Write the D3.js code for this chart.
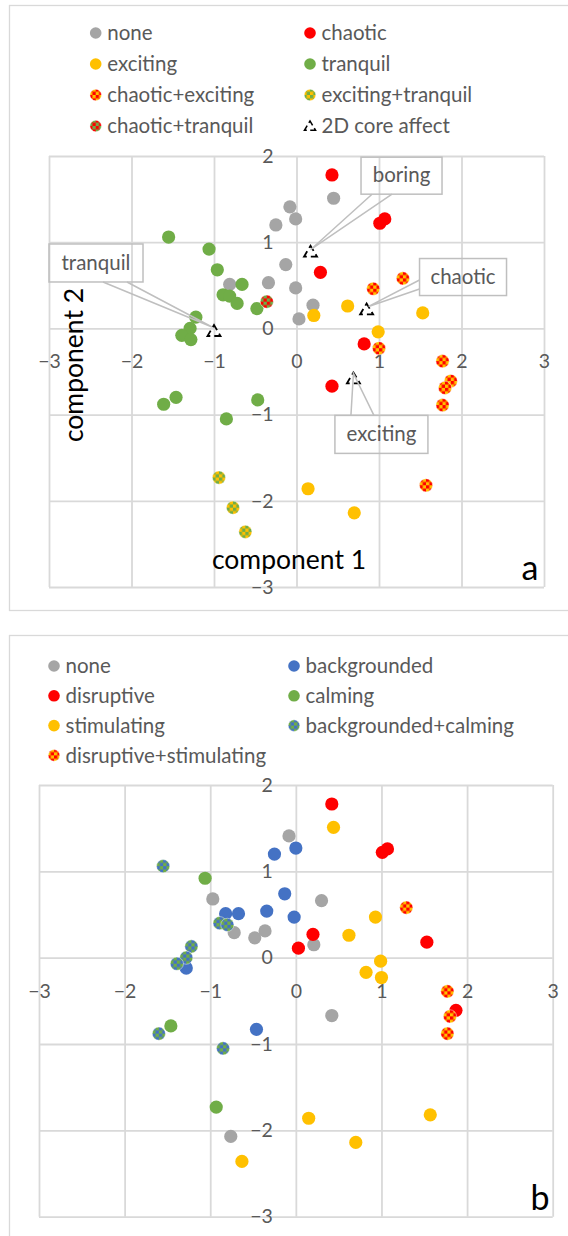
<!DOCTYPE html>
<html><head><meta charset="utf-8">
<script src="https://cdn.jsdelivr.net/npm/d3@7"></script>
<style>
html,body{margin:0;padding:0;background:#fff;}
svg{display:block;font-family:Lato,"Open Sans",sans-serif;}
</style></head><body>
<svg id="chart" width="568" height="1236"></svg>
<script>
// Axis ticks shared by both panels
const ticksX = [-3, -2, -1, 0, 1, 2, 3];
const ticksY = [-3, -2, -1, 0, 1, 2];

// Panel a: soundscape labels (component 1, component 2)
const noneA = [[-0.81,0.51],[-0.34,0.53],[-0.13,0.74],[-0.01,0.47],[0.03,0.11],[-0.25,1.20],[-0.08,1.41],[-0.01,1.27],[0.45,1.51],[0.20,0.27]];
const chaoticA = [[0.43,1.78],[1.01,1.22],[1.07,1.27],[0.29,0.65],[0.82,-0.18],[0.43,-0.67]];
const excitingA = [[0.21,0.15],[0.62,0.26],[1.53,0.18],[0.99,-0.04],[0.14,-1.86],[0.70,-2.14]];
const tranquilA = [[-1.55,1.06],[-1.06,0.92],[-0.96,0.68],[-0.66,0.51],[-0.89,0.39],[-0.81,0.375],[-0.72,0.29],[-0.48,0.23],[-1.22,0.13],[-1.29,0.0],[-1.39,-0.08],[-1.28,-0.13],[-1.46,-0.80],[-1.61,-0.88],[-0.47,-0.83],[-0.85,-1.05]];
const chaoticExcitingA = [[0.93,0.46],[1.29,0.58],[1.00,-0.23],[1.77,-0.38],[1.87,-0.61],[1.80,-0.69],[1.77,-0.89],[1.57,-1.82]];
const excitingTranquilA = [[-0.94,-1.73],[-0.77,-2.08],[-0.62,-2.36]];
const chaoticTranquilA = [[-0.36,0.31]];
const coreAffectA = [[-1.00,-0.03],[0.17,0.89],[0.85,0.22],[0.69,-0.58]];
const coreAffectNames = ["tranquil", "boring", "chaotic", "exciting"];

// Panel b: sound effect labels (same component space)
const noneB = [[-0.97,0.68],[-0.72,0.29],[-0.48,0.23],[-0.36,0.31],[-0.08,1.41],[0.30,0.66],[0.21,0.15],[0.42,-0.67],[-0.76,-2.07]];
const backgroundedB = [[-0.82,0.51],[-0.67,0.51],[-0.34,0.54],[-0.13,0.74],[-0.02,0.47],[-0.25,1.20],[0.00,1.27],[-1.28,-0.12],[-0.46,-0.83]];
const disruptiveB = [[0.03,0.11],[0.42,1.78],[1.01,1.22],[1.07,1.26],[0.20,0.27],[1.53,0.18],[1.87,-0.61]];
const calmingB = [[-1.06,0.92],[-1.46,-0.79],[-0.93,-1.73]];
const stimulatingB = [[0.44,1.51],[0.93,0.47],[0.62,0.26],[0.99,-0.04],[0.82,-0.17],[1.00,-0.23],[1.57,-1.82],[0.15,-1.86],[0.70,-2.14],[-0.63,-2.36]];
const backgroundedCalmingB = [[-1.55,1.06],[-0.89,0.40],[-0.80,0.38],[-1.22,0.13],[-1.28,0.00],[-1.39,-0.07],[-1.60,-0.88],[-0.85,-1.05]];
const disruptiveStimulatingB = [[1.29,0.58],[1.77,-0.39],[1.80,-0.68],[1.77,-0.88]];

// Palette
const GREY = "#A5A5A5", RED = "#FF0000", GOLD = "#FFC000", GREEN = "#70AD47", BLUE = "#4472C4";
const GRID = "#D9D9D9", TEXT = "#595959";

const svg = d3.select("#chart");
const defs = svg.append("defs");

// two-colour checkerboard fills for combined labels
function checker(id, base, alt) {
  const p = defs.append("pattern").attr("id", id)
    .attr("patternUnits", "userSpaceOnUse").attr("width", 6.6).attr("height", 6.6);
  p.append("rect").attr("width", 6.6).attr("height", 6.6).attr("fill", base);
  p.append("rect").attr("width", 3.3).attr("height", 3.3).attr("fill", alt);
  p.append("rect").attr("x", 3.3).attr("y", 3.3).attr("width", 3.3).attr("height", 3.3).attr("fill", alt);
  return `url(#${id})`;
}
const fillCE = checker("chkRY", GOLD, RED);
const fillET = checker("chkYG", GOLD, GREEN);
const fillCT = checker("chkRG", GREEN, RED);
const fillBC = checker("chkBG", GREEN, BLUE);

const seriesA = [
  {name: "none", data: noneA, fill: GREY},
  {name: "chaotic", data: chaoticA, fill: RED},
  {name: "exciting", data: excitingA, fill: GOLD},
  {name: "tranquil", data: tranquilA, fill: GREEN},
  {name: "chaotic+exciting", data: chaoticExcitingA, fill: fillCE, checked: true},
  {name: "exciting+tranquil", data: excitingTranquilA, fill: fillET, checked: true},
  {name: "chaotic+tranquil", data: chaoticTranquilA, fill: fillCT, checked: true},
  {name: "2D core affect", data: coreAffectA, core: true}
];
const seriesB = [
  {name: "none", data: noneB, fill: GREY},
  {name: "backgrounded", data: backgroundedB, fill: BLUE},
  {name: "disruptive", data: disruptiveB, fill: RED},
  {name: "calming", data: calmingB, fill: GREEN},
  {name: "stimulating", data: stimulatingB, fill: GOLD},
  {name: "backgrounded+calming", data: backgroundedCalmingB, fill: fillBC, checked: true},
  {name: "disruptive+stimulating", data: disruptiveStimulatingB, fill: fillCE, checked: true}
];

// dashed open triangle used for the core-affect reference points
const triPath = "M0,-6L6.5,5L-6.5,5Z";

function drawMarker(g, s, r) {
  if (s.core) {
    g.append("path").attr("d", triPath).attr("fill", "none")
      .attr("stroke", "#000").attr("stroke-width", 1.8)
      .attr("stroke-dasharray", "9,4").attr("stroke-dashoffset", 3);
  } else {
    g.append("circle").attr("r", r).attr("fill", s.fill)
      .attr("stroke", s.checked ? "rgba(255,255,255,0.55)" : "none").attr("stroke-width", 0.8);
  }
}

function panel(cfg) {
  const x = d3.scaleLinear().domain([-3, 3]).range([cfg.left, cfg.right]);
  const y = d3.scaleLinear().domain([-3, 2]).range([cfg.bottom, cfg.top]);

  // outer chart frame
  svg.append("rect").attr("x", 9.5).attr("y", cfg.frameTop + 0.5)
    .attr("width", 620).attr("height", cfg.frameH)
    .attr("fill", "none").attr("stroke", GRID).attr("stroke-width", 1.3);

  // gridlines
  const grid = svg.append("g");
  grid.append("g").attr("transform", `translate(0,${cfg.bottom})`)
    .call(d3.axisBottom(x).tickValues(ticksX).tickSize(-(cfg.bottom - cfg.top)).tickFormat(""))
    .call(g => g.select(".domain").remove())
    .call(g => g.selectAll("line").attr("stroke", GRID).attr("stroke-width", 1.8));
  grid.append("g").attr("transform", `translate(${cfg.left},0)`)
    .call(d3.axisLeft(y).tickValues(ticksY).tickSize(-(cfg.right - cfg.left)).tickFormat(""))
    .call(g => g.select(".domain").remove())
    .call(g => g.selectAll("line").attr("stroke", GRID).attr("stroke-width", 1.8));

  // tick labels along the zero axes
  svg.append("g").attr("transform", `translate(0,${y(0)})`)
    .call(d3.axisBottom(x).tickValues(ticksX).tickSize(0).tickPadding(26).tickFormat(d3.format("d")))
    .call(g => g.select(".domain").remove())
    .call(g => g.selectAll("text").attr("fill", TEXT).style("font-size", "19.5px").style("font-family", "Lato"));
  svg.append("g").attr("transform", `translate(${x(0)},0)`)
    .call(d3.axisLeft(y).tickValues(ticksY).tickSize(0).tickPadding(23).tickFormat(d3.format("d")))
    .call(g => g.select(".domain").remove())
    .call(g => g.selectAll("text").attr("fill", TEXT).style("font-size", "19.5px").style("font-family", "Lato"));

  // legend, two columns filled row by row
  const leg = svg.append("g");
  cfg.series.forEach((s, i) => {
    const col = i % 2, row = Math.floor(i / 2);
    const g = leg.append("g")
      .attr("transform", `translate(${cfg.legX[col]},${cfg.legY + row * cfg.legStep})`);
    const m = g.append("g").attr("transform", s.core ? "scale(0.85)" : null);
    drawMarker(m, s, 5.8);
    g.append("text").attr("x", 11.5).attr("dy", "0.35em")
      .attr("fill", TEXT).style("font-size", "20.5px").text(s.name);
  });

  // points
  const plot = svg.append("g");
  cfg.series.forEach(s => {
    plot.selectAll(null).data(s.data).join("g")
      .attr("transform", d => `translate(${x(d[0])},${y(d[1])})`)
      .each(function() { drawMarker(d3.select(this), s, 6.6); });
  });

  // panel letter
  svg.append("text").attr("x", cfg.letterX).attr("y", cfg.letterY)
    .attr("text-anchor", "middle").attr("fill", "#000")
    .style("font-size", "34px").text(cfg.letter);

  return {x, y};
}

const sa = panel({
  series: seriesA, left: 49, right: 544, top: 156, bottom: 587,
  frameTop: 5, frameH: 605, legX: [95.7, 310], legY: 33, legStep: 31,
  letter: "a", letterX: 530, letterY: 580
});
const sb = panel({
  series: seriesB, left: 39, right: 552.7, top: 785, bottom: 1216.7,
  frameTop: 635, frameH: 700, legX: [54, 294], legY: 666, legStep: 29.8,
  letter: "b", letterX: 540, letterY: 1210
});

// axis titles (panel a)
svg.append("text").attr("x", 289).attr("y", 569).attr("text-anchor", "middle")
  .attr("fill", "#000").style("font-size", "26.5px").text("component 1");
svg.append("text").attr("transform", "translate(83,365) rotate(-90)")
  .attr("text-anchor", "middle").attr("fill", "#000").style("font-size", "26.5px").text("component 2");

// callouts naming the core-affect points: box centre offset, wedge base points, tip offset
const calloutLayout = [
  {box: [-118, -68], size: [94, 38], base: [[7, 19], [31, 19]], tip: [-2, -4]},
  {box: [91, -76], size: [81, 37], base: [[-29.5, 18.5], [-9.5, 18.5]], tip: [0, -2]},
  {box: [96.4, -32.4], size: [87, 37], base: [[-43.5, 3], [-43.5, 12]], tip: [2, -3]},
  {box: [28, 56], size: [93, 38], base: [[-30.5, -19], [-7.5, -19]], tip: [0, -5]}
];
const callouts = svg.append("g");
coreAffectA.forEach((d, i) => {
  const L = calloutLayout[i];
  const px = sa.x(d[0]), py = sa.y(d[1]);
  const cx = px + L.box[0], cy = py + L.box[1];
  const g = callouts.append("g");
  g.append("rect").attr("x", cx - L.size[0] / 2).attr("y", cy - L.size[1] / 2)
    .attr("width", L.size[0]).attr("height", L.size[1])
    .attr("fill", "none").attr("stroke", "#BFBFBF").attr("stroke-width", 1.5);
  g.append("path")
    .attr("d", d3.line()([[cx + L.base[0][0], cy + L.base[0][1]], [px + L.tip[0], py + L.tip[1]], [cx + L.base[1][0], cy + L.base[1][1]]]))
    .attr("fill", "none").attr("stroke", "#BFBFBF").attr("stroke-width", 1.5);
  g.append("text").attr("x", cx).attr("y", cy).attr("dy", "0.33em").attr("text-anchor", "middle")
    .attr("fill", TEXT).style("font-size", "20.5px").text(coreAffectNames[i]);
});
</script>
</body></html>
